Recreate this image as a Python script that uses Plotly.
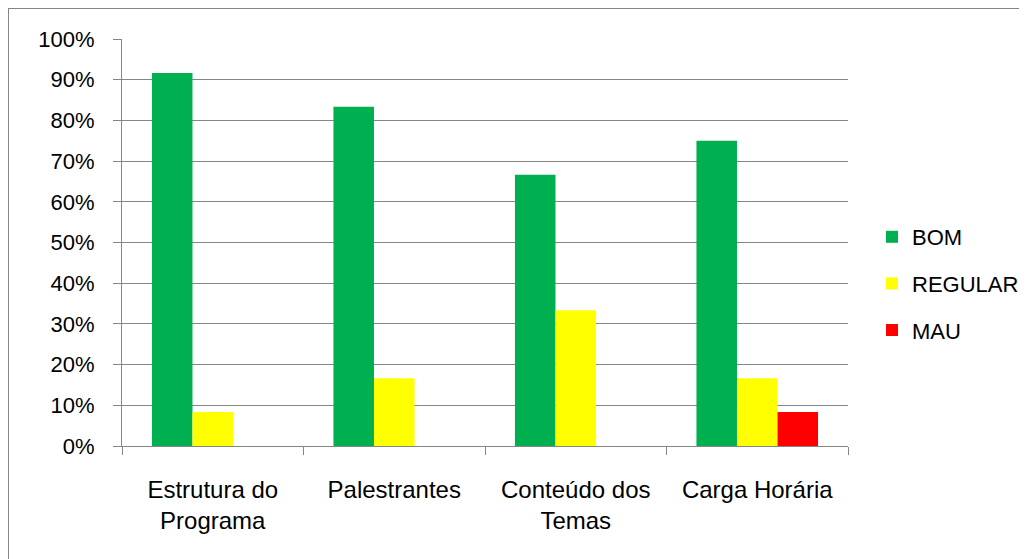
import plotly.graph_objects as go

categories = ["Estrutura do<br>Programa", "Palestrantes", "Conteúdo dos<br>Temas", "Carga Horária"]
bom = [0.9167, 0.8333, 0.6667, 0.75]
regular = [0.0833, 0.1667, 0.3333, 0.1667]
mau = [0.0, 0.0, 0.0, 0.0833]
series_names = ["BOM", "REGULAR", "MAU"]
colors = ["#00B050", "#FFFF00", "#FF0000"]
y_ticks = [0, 0.1, 0.2, 0.3, 0.4, 0.5, 0.6, 0.7, 0.8, 0.9, 1.0]
title_text = "ORGANIZAÇÃO"

FONT = "Liberation Sans"
OFF = 8  # page body margin
W, H = 1027, 559
L, R, T, B = 122 - OFF, 848 - OFF, 39 - OFF, 446 - OFF
pw, ph = R - L, B - T

fig = go.Figure()
for i, (name, vals) in enumerate(zip(series_names, [bom, regular, mau])):
    fig.add_trace(go.Bar(x=categories, y=vals, name=name, marker_color=colors[i],
                         marker_line_width=0, legendgroup=name))

def px_x(x):
    return (x - OFF - L) / pw

def px_y(y):
    return (B - (y - OFF)) / ph

fig.update_layout(
    width=W, height=H,
    margin=dict(l=L, r=W - R, t=T, b=H - B, pad=0),
    paper_bgcolor="white", plot_bgcolor="white",
    barmode="group", bargap=0.33, bargroupgap=0,
    font=dict(family=FONT, size=22, color="black"),
    showlegend=True,
    legend=dict(xref="container", yref="container",
                x=(872 - OFF) / W, y=1 - (216 - OFF) / H, xanchor="left", yanchor="top",
                font=dict(size=22), tracegroupgap=15, itemwidth=30,
                bgcolor="rgba(0,0,0,0)"),
    xaxis=dict(showgrid=False, showline=True, linecolor="#868686", linewidth=1,
               ticks="outside", tickson="boundaries", ticklen=8, tickcolor="#868686",
               tickfont=dict(size=24), ticklabelstandoff=22, fixedrange=True),
    yaxis=dict(range=[0, 1], tickvals=y_ticks, tickformat=".0%",
               showgrid=True, gridcolor="#868686", gridwidth=1,
               showline=True, linecolor="#868686", linewidth=1,
               ticks="outside", ticklen=8, tickcolor="#868686",
               tickfont=dict(size=22), ticklabelstandoff=14,
               zeroline=False, fixedrange=True),
    shapes=[dict(type="rect", xref="paper", yref="paper",
                 x0=px_x(8), x1=px_x(1100), y0=px_y(700), y1=px_y(8),
                 line=dict(color="#868686", width=2), layer="below")],
    annotations=[dict(text="<b>" + title_text + "</b>", xref="paper", yref="paper",
                      x=px_x(563), y=px_y(6), xanchor="center", yanchor="bottom",
                      showarrow=False, font=dict(size=24, family=FONT, color="black"))],
)

fig.write_html("out.html")
